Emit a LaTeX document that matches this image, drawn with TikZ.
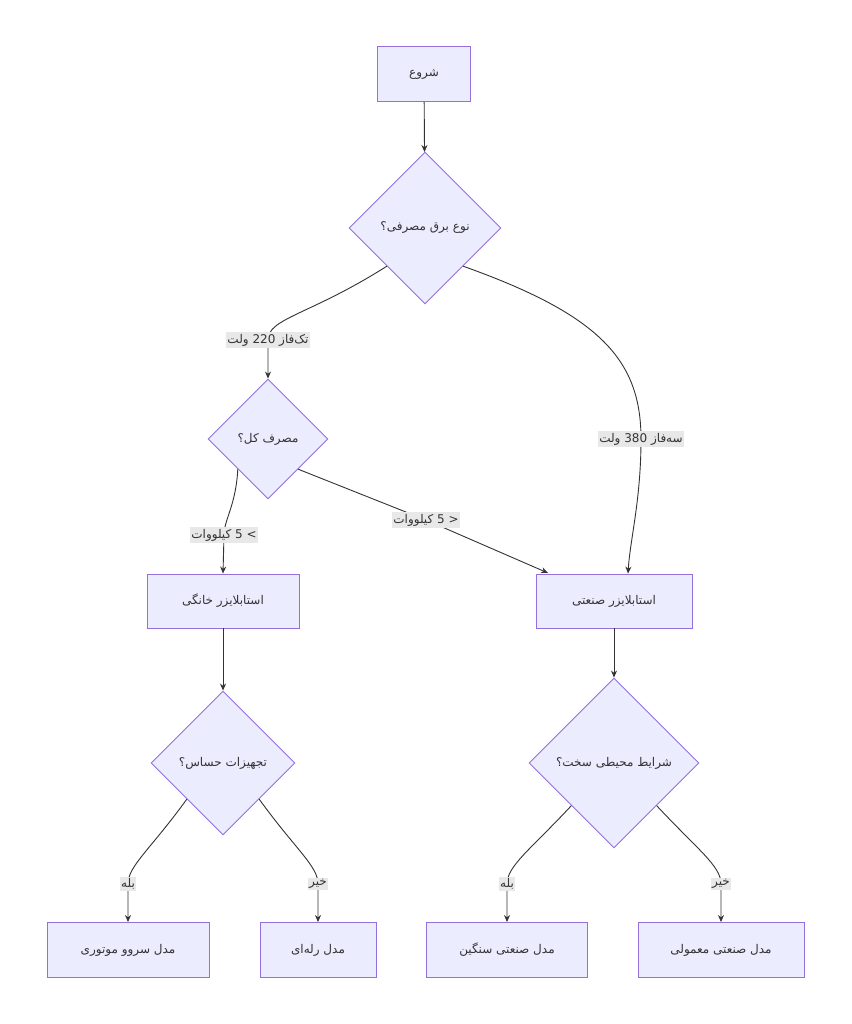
\documentclass[tikz,border=0pt]{standalone}
\usepackage{fontspec}
\setmainfont[Script=Arabic]{DejaVu Sans}
\newfontfamily\latf{DejaVu Sans}
\usetikzlibrary{shapes.geometric,arrows.meta}
\definecolor{nfill}{HTML}{ECECFF}
\definecolor{nline}{HTML}{9370DB}
\definecolor{eline}{HTML}{333333}
\definecolor{lbg}{HTML}{E8E8E8}
\newcommand{\w}[1]{\mbox{#1}}
\newcommand{\lw}[1]{\mbox{\latf #1}}
\begin{document}
\begin{tikzpicture}[x=1pt,y=-1pt,
  box/.style={draw=nline,fill=nfill,line width=0.9pt,font=\fontsize{12}{14}\selectfont,text=eline},
  dia/.style={diamond,draw=nline,fill=nfill,line width=0.9pt,inner sep=0pt,aspect=1,font=\fontsize{12}{14}\selectfont,text=eline},
  lab/.style={fill=lbg,inner sep=1.5pt,font=\fontsize{12}{14}\selectfont,text=eline},
  ed/.style={draw=eline,line width=0.9pt,-{Stealth[length=7pt,width=6pt]}}]
\useasboundingbox[fill=white] (0,0) rectangle (851,1024);
\node[box,minimum width=93pt,minimum height=55pt] (s) at (424,74) {شروع};
\node[dia,minimum size=152pt] (d1) at (425,228) {\w{مصرفی؟} \w{برق} \w{نوع}};
\node[dia,minimum size=120pt] (d2) at (268,439) {\w{کل؟} \w{مصرف}};
\node[box,minimum width=152pt,minimum height=54pt] (h) at (223,601) {\w{خانگی} \w{استابلایزر}};
\node[box,minimum width=156pt,minimum height=54pt] (i) at (614,601) {\w{صنعتی} \w{استابلایزر}};
\node[dia,minimum size=144pt] (d3) at (223,763) {\w{حساس؟} \w{تجهیزات}};
\node[dia,minimum size=170pt] (d4) at (614,763) {\w{سخت؟} \w{محیطی} \w{شرایط}};
\node[box,minimum width=162pt,minimum height=55pt] (b1) at (128,950) {\w{موتوری} \w{سروو} \w{مدل}};
\node[box,minimum width=116pt,minimum height=55pt] (b2) at (318,950) {\w{رله‌ای} \w{مدل}};
\node[box,minimum width=161pt,minimum height=55pt] (b3) at (507,950) {\w{سنگین} \w{صنعتی} \w{مدل}};
\node[box,minimum width=166pt,minimum height=55pt] (b4) at (721,950) {\w{معمولی} \w{صنعتی} \w{مدل}};
\draw[ed] (s) -- (d1);
\draw[ed] (d1.south west) .. controls (310,315) and (268,318) .. (268,340) -- (d2.north);
\draw[ed] (d1.south east) .. controls (600,315) and (641,360) .. (641,439) .. controls (641,500) and (630,540) .. (i.north -| 628,0);
\draw[ed] (d2.south west) .. controls (236,505) and (224,520) .. (224,535) -- (h.north);
\draw[ed] (d2.south east) -- (426,520) -- (548,573);
\draw[ed] (h) -- (d3);
\draw[ed] (i) -- (d4);
\draw[ed] (d3.south west) .. controls (150,850) and (128,866) .. (128,884) -- (b1.north);
\draw[ed] (d3.south east) .. controls (296,850) and (318,866) .. (318,884) -- (b2.north);
\draw[ed] (d4.south west) .. controls (530,850) and (507,866) .. (507,884) -- (b3.north);
\draw[ed] (d4.south east) .. controls (698,850) and (721,866) .. (721,884) -- (b4.north);
\node[lab] (l1) at (268,340) {\w{ولت} \lw{220} \w{تک‌فاز}};
\node[lab] (l2) at (641,439) {\w{ولت} \lw{380} \w{سه‌فاز}};
\node[lab] (l3) at (224,535) {\w{کیلووات} \lw{5} \lw{<}};
\node[lab] (l4) at (426,520) {\w{کیلووات} \lw{5} \lw{>}};
\node[lab] (l5) at (128,884) {بله};
\node[lab] (l6) at (318,884) {خیر};
\node[lab] (l7) at (507,884) {بله};
\node[lab] (l8) at (721,884) {خیر};
\end{tikzpicture}
\end{document}
